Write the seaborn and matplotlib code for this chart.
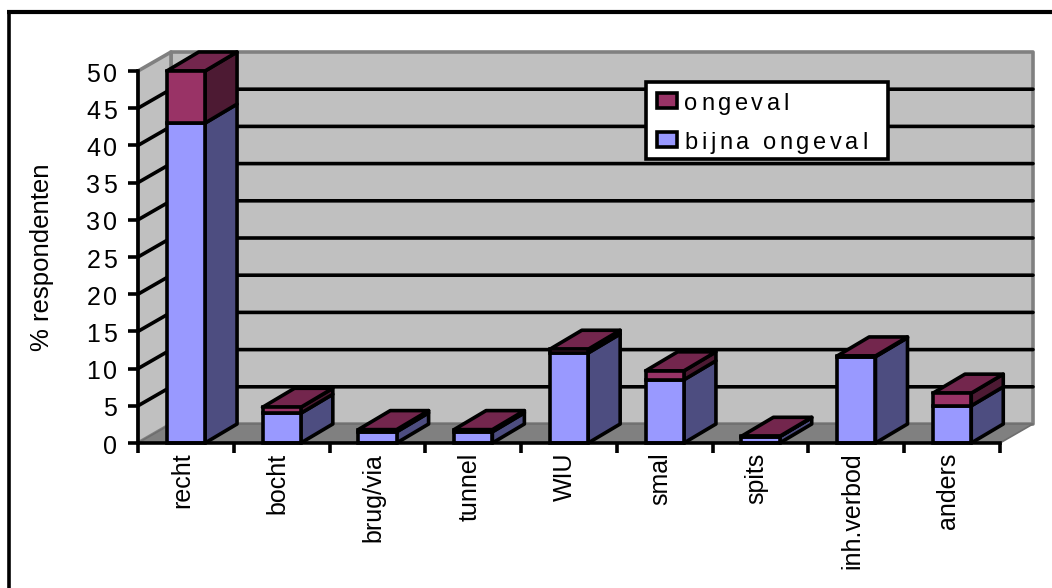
import matplotlib
matplotlib.use("Agg")
import matplotlib.pyplot as plt
from matplotlib.lines import Line2D
from matplotlib.patches import Patch, Polygon
from matplotlib.text import Text
from matplotlib.transforms import IdentityTransform, ScaledTranslation
import numpy as np
import pandas as pd
import seaborn as sns

# Share of respondents per road situation
categories = ["recht", "bocht", "brug/via", "tunnel", "WIU", "smal", "spits", "inh.verbod", "anders"]
bijna_ongeval = [43.0, 4.0, 1.5, 1.5, 12.1, 8.5, 0.85, 11.6, 5.0]
ongeval = [7.0, 0.8, 0.3, 0.3, 0.5, 1.2, 0.05, 0.1, 1.7]
y_ticks = [0, 5, 10, 15, 20, 25, 30, 35, 40, 45, 50]

FRONT_BLUE, SIDE_BLUE = "#9999ff", "#4d4d80"
FRONT_RED, SIDE_RED, TOP_RED = "#993366", "#4d1a33", "#73264d"
WALL, FLOOR, WALL_EDGE = "#c0c0c0", "#808080", "#808080"
LW = 2.6

sns.set_theme(style="white")
plt.rcParams["font.family"] = ["Liberation Sans", "DejaVu Sans"]

W, H = 1052, 588
fig = plt.figure(figsize=(W / 100, H / 100), dpi=100, facecolor="white")
ax = fig.add_axes([138 / W, (H - 443) / H, 862 / W, 372 / H])

df = pd.DataFrame({"situatie": categories, "bijna": bijna_ongeval, "ongeval": ongeval})
sns.barplot(df, x="situatie", y="bijna", color=FRONT_BLUE, saturation=1, width=0.4,
            edgecolor="black", linewidth=LW, ax=ax)
sns.barplot(df, x="situatie", y="ongeval", bottom=df["bijna"], color=FRONT_RED, saturation=1,
            width=0.4, edgecolor="black", linewidth=LW, ax=ax)
for bar in ax.patches:
    bar.set_zorder(4)
    bar.set_clip_on(False)

ax.set_xlim(-0.5, 8.5)
ax.set_ylim(0, 50)
x0, x1 = ax.get_xlim()

# Oblique depth of the box, in data units
wall_dx, wall_dy = 33 / 862 * 9, 19 / 372 * 50
bar_dx, bar_dy = 32 / 862 * 9, 19 / 372 * 50


def face(points, color, edge, z, lw=LW):
    ax.add_patch(Polygon(points, closed=True, facecolor=color, edgecolor=edge, linewidth=lw,
                         joinstyle="round", clip_on=False, zorder=z))


# Back wall, side wall and floor
face([(x0 + wall_dx, wall_dy), (x1 + wall_dx, wall_dy), (x1 + wall_dx, 50 + wall_dy), (x0 + wall_dx, 50 + wall_dy)],
     WALL, WALL_EDGE, 0.1)
face([(x0, 0), (x0 + wall_dx, wall_dy), (x0 + wall_dx, 50 + wall_dy), (x0, 50)], WALL, WALL_EDGE, 0.1)
face([(x0, 0), (x1, 0), (x1 + wall_dx, wall_dy), (x0 + wall_dx, wall_dy)], FLOOR, "#6e6e6e", 0.2, 1.2)

# Gridlines across both walls
for tick in y_ticks[1:-1]:
    ax.plot([x0, x0 + wall_dx, x1 + wall_dx], [tick, tick + wall_dy, tick + wall_dy],
            color="black", lw=LW, clip_on=False, zorder=0.5, solid_joinstyle="miter")

# Side and top faces of each stacked column
half = 0.2
for i, (low, high) in enumerate(zip(bijna_ongeval, ongeval)):
    right = i + half
    left = i - half
    total = low + high
    face([(right, 0), (right + bar_dx, bar_dy), (right + bar_dx, low + bar_dy), (right, low)], SIDE_BLUE, "black", 3)
    face([(right, low), (right + bar_dx, low + bar_dy), (right + bar_dx, total + bar_dy), (right, total)],
         SIDE_RED, "black", 3)
    face([(left, total), (right, total), (right + bar_dx, total + bar_dy), (left + bar_dx, total + bar_dy)],
         TOP_RED, "black", 3)

# Axes, ticks and labels
for name in ("top", "right"):
    ax.spines[name].set_visible(False)
for name in ("left", "bottom"):
    ax.spines[name].set_color("black")
    ax.spines[name].set_linewidth(LW)
    ax.spines[name].set_zorder(5)

ax.set_xlabel("")
ax.set_ylabel("")
ax.set_yticks(y_ticks)
ax.set_xticks(np.arange(len(categories)), categories, rotation=90, va="top", ha="center", fontsize=18, color="black")
ax.set_xticks(np.arange(len(categories) + 1) - 0.5, minor=True)
ax.tick_params(axis="x", which="major", length=0, pad=7, bottom=True)
ax.tick_params(axis="x", which="minor", length=7, width=LW, color="black", bottom=True)
ax.tick_params(axis="y", length=7, width=LW, color="black", left=True, pad=8, labelsize=18, labelcolor="black")
shift_left = ScaledTranslation(-4 / 100, 0, fig.dpi_scale_trans)
for label in ax.get_xticklabels():
    label.set_transform(label.get_transform() + shift_left)
fig.text(42 / W, (H - 257) / H, "% respondenten", rotation=90, ha="center", va="center", fontsize=18.5, color="black")

# Legend box
handles = [Patch(facecolor=FRONT_RED, edgecolor="black", linewidth=LW),
           Patch(facecolor=FRONT_BLUE, edgecolor="black", linewidth=LW)]
box = ax.transAxes.inverted().transform([(645.5, H - 159), (888, H - 81)])
legend = ax.legend(handles, ["ongeval", "bijna ongeval"], loc="lower left", mode="expand",
                   bbox_to_anchor=(box[0, 0], box[0, 1], box[1, 0] - box[0, 0], box[1, 1] - box[0, 1]),
                   borderaxespad=0, borderpad=0.33, labelspacing=0.72, handlelength=0.85, handleheight=0.6,
                   handletextpad=0.38, fontsize=17, fancybox=False, framealpha=1,
                   facecolor="white", edgecolor="black", labelcolor="black")
legend.get_frame().set_linewidth(LW)
legend.set_zorder(10)
for handle in legend.legend_handles:
    handle.set_x(handle.get_x() + 2.9)
    handle.set_y(handle.get_y() - 1.0)


def track_letters(label, gap, nudge_x=0, nudge_y=0):
    """Draw a horizontal label with extra space between its letters."""

    def draw(renderer):
        string = label.get_text()
        if not string or not label.get_visible():
            return
        prop = label.get_fontproperties()
        bbox = Text.get_window_extent(label, renderer)
        descent = renderer.get_text_width_height_descent("lp", prop, False)[2]
        extra = gap * (len(string) - 1)
        start = bbox.x1 - bbox.width - extra if label.get_ha() == "right" else bbox.x0
        for i, letter in enumerate(string):
            advance = renderer.get_text_width_height_descent(string[:i], prop, False)[0] if i else 0
            piece = Text(start + advance + gap * i + nudge_x, bbox.y0 + descent + nudge_y, letter,
                         fontproperties=prop, color=label.get_color(), ha="left", va="baseline",
                         transform=IdentityTransform())
            piece.set_figure(fig)
            piece.draw(renderer)

    label.draw = draw


for label in ax.get_yticklabels():
    track_letters(label, 3.0, nudge_y=-1)
for label in legend.get_texts():
    track_letters(label, 3.6, nudge_x=2, nudge_y=-3)

# Chart border, left and top edges only
fig.add_artist(Line2D([9 / W, 9 / W], [0, (H - 12) / H], color="black", lw=LW, solid_capstyle="butt"))
fig.add_artist(Line2D([7 / W, 1], [(H - 12) / H, (H - 12) / H], color="black", lw=LW + 0.4, solid_capstyle="butt"))

fig.savefig("out.png", dpi=100, facecolor="white")
